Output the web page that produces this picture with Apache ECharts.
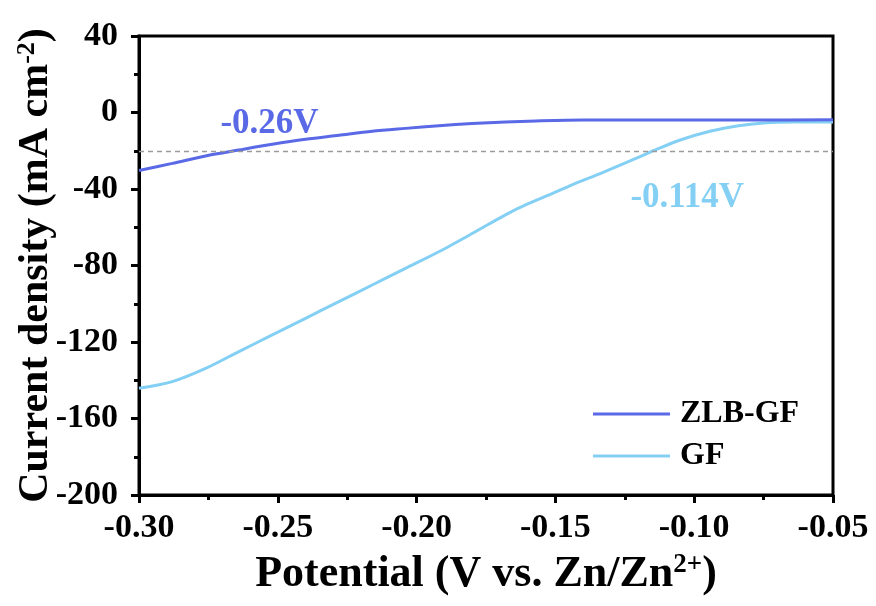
<!DOCTYPE html>
<html>
<head>
<meta charset="utf-8">
<script src="https://cdn.jsdelivr.net/npm/echarts@6/dist/echarts.min.js"></script>
<style>
html,body{margin:0;padding:0;background:#fff;}
#chart{width:876px;height:606px;}
</style>
</head>
<body>
<div id="chart"></div>
<script>
// Data
const zlbX = [-0.300, -0.288, -0.276, -0.264, -0.252, -0.240, -0.228, -0.216, -0.204, -0.192, -0.180, -0.168, -0.157, -0.140, -0.120, -0.100, -0.080, -0.050];
const zlbY = [-30.3, -26.6, -22.7, -19.6, -16.6, -14.0, -11.9, -9.8, -8.3, -6.9, -5.8, -5.0, -4.4, -3.9, -3.9, -3.9, -3.9, -3.8];
const gfX = [-0.300, -0.288, -0.276, -0.264, -0.252, -0.240, -0.228, -0.216, -0.204, -0.192, -0.180, -0.168, -0.160, -0.151, -0.144, -0.133, -0.121, -0.114, -0.105, -0.094, -0.084, -0.074, -0.064, -0.050];
const gfY = [-144.2, -140.7, -133.8, -125.0, -116.3, -107.6, -98.9, -90.2, -81.5, -72.8, -63.3, -53.5, -47.8, -42.3, -37.8, -31.4, -24.0, -19.6, -14.4, -9.7, -6.9, -5.3, -5.0, -5.0];
const seriesNames = ['ZLB-GF', 'GF'];
const refLevel = -20;
const notes = [
  {text: '-0.26V', x: -0.253, y: -6},
  {text: '-0.114V', x: -0.1025, y: -44.5}
];

const FONT = '"Times New Roman", "Liberation Serif", serif';
const C1 = '#5a69e6';
const C2 = '#84d0f4';

const zip = (xs, ys) => xs.map((x, i) => [x, ys[i]]);

const chart = echarts.init(document.getElementById('chart'), null, {renderer: 'canvas'});
chart.setOption({
  animation: false,
  backgroundColor: '#fff',
  grid: {left: 139, right: 43, top: 36, bottom: 111, containLabel: false, outerBoundsMode: 'none', show: true, borderColor: '#000', borderWidth: 3, backgroundColor: 'transparent'},
  legend: {
    orient: 'vertical', left: 588, top: 393, itemWidth: 77, itemHeight: 3, itemGap: 10,
    icon: 'rect',
    data: seriesNames,
    textStyle: {fontFamily: FONT, fontWeight: 'bold', fontSize: 32, color: '#000', padding: [0, 0, 0, 5]}
  },
  xAxis: {
    type: 'value', min: -0.30, max: -0.05, interval: 0.05,
    axisLine: {show: true, onZero: false, lineStyle: {color: '#000', width: 3}},
    axisTick: {show: true, inside: false, length: 8, lineStyle: {width: 3, color: '#000'}},
    minorTick: {show: true, splitNumber: 2, length: 5, lineStyle: {width: 3, color: '#000'}},
    splitLine: {show: false},
    axisLabel: {margin: 16, formatter: v => v.toFixed(2), fontFamily: FONT, fontWeight: 'bold', fontSize: 34, color: '#000'},
    name: '{a|Potential (V vs. Zn/Zn}{s|2+}{a|)}',
    nameLocation: 'middle', nameGap: 57, nameMoveOverlap: false,
    nameTextStyle: {
      rich: {
        a: {fontFamily: FONT, fontWeight: 'bold', fontSize: 44, color: '#000', lineHeight: 46},
        s: {fontFamily: FONT, fontWeight: 'bold', fontSize: 27, color: '#000', verticalAlign: 'top', lineHeight: 46}
      }
    }
  },
  yAxis: {
    type: 'value', min: -200, max: 40, interval: 40,
    axisLine: {show: true, onZero: false, lineStyle: {color: '#000', width: 3}},
    axisTick: {show: true, inside: false, length: 8, lineStyle: {width: 3, color: '#000'}},
    minorTick: {show: true, splitNumber: 2, length: 5, lineStyle: {width: 3, color: '#000'}},
    splitLine: {show: false},
    axisLabel: {margin: 21, fontFamily: FONT, fontWeight: 'bold', fontSize: 34, color: '#000'},
    name: '{a|Current density (mA cm}{s|-2}{a|)}',
    nameLocation: 'middle', nameGap: 81, nameMoveOverlap: false,
    nameTextStyle: {
      rich: {
        a: {fontFamily: FONT, fontWeight: 'bold', fontSize: 42, color: '#000', lineHeight: 44},
        s: {fontFamily: FONT, fontWeight: 'bold', fontSize: 26, color: '#000', verticalAlign: 'top', lineHeight: 44}
      }
    }
  },
  series: [
    {
      name: seriesNames[0], type: 'line', data: zip(zlbX, zlbY), smooth: 0.3, showSymbol: false,
      lineStyle: {color: C1, width: 3}, itemStyle: {color: C1},
      markLine: {
        silent: true, symbol: ['none', 'none'], label: {show: false},
        lineStyle: {color: '#9a9a9a', type: [5, 4], width: 1.3},
        data: [{yAxis: refLevel}]
      },
      markPoint: {
        symbol: 'circle', symbolSize: 0, silent: true,
        label: {show: true, position: 'inside', formatter: notes[0].text, fontFamily: FONT, fontWeight: 'bold', fontSize: 35, color: C1},
        data: [{coord: [notes[0].x, notes[0].y]}]
      },
      z: 3
    },
    {
      name: seriesNames[1], type: 'line', data: zip(gfX, gfY), smooth: 0.3, showSymbol: false,
      lineStyle: {color: C2, width: 3}, itemStyle: {color: C2},
      markPoint: {
        symbol: 'circle', symbolSize: 0, silent: true,
        label: {show: true, position: 'inside', formatter: notes[1].text, fontFamily: FONT, fontWeight: 'bold', fontSize: 35, color: C2},
        data: [{coord: [notes[1].x, notes[1].y]}]
      },
      z: 2
    }
  ]
});
</script>
</body>
</html>
